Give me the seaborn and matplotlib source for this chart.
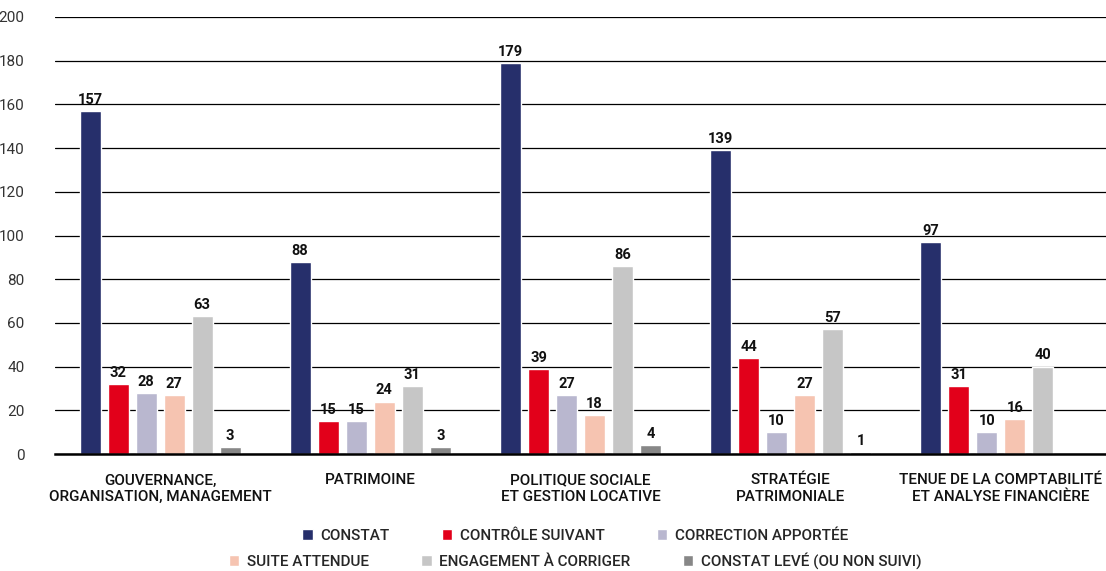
import matplotlib
matplotlib.use("Agg")
import matplotlib.pyplot as plt
import seaborn as sns
import pandas as pd
import numpy as np

categories = ["GOUVERNANCE,\nORGANISATION, MANAGEMENT", "PATRIMOINE",
              "POLITIQUE SOCIALE\nET GESTION LOCATIVE", "STRATÉGIE\nPATRIMONIALE",
              "TENUE DE LA COMPTABILITÉ\nET ANALYSE FINANCIÈRE"]
series = ["CONSTAT", "CONTRÔLE SUIVANT", "CORRECTION APPORTÉE",
          "SUITE ATTENDUE", "ENGAGEMENT À CORRIGER", "CONSTAT LEVÉ (OU NON SUIVI)"]
constat = [157, 88, 179, 139, 97]
controle = [32, 15, 39, 44, 31]
correction = [28, 15, 27, 10, 10]
suite = [27, 24, 18, 27, 16]
engagement = [63, 31, 86, 57, 40]
leve = [3, 3, 4, 1, np.nan]
colors = ["#262F6B", "#E2001A", "#B9B7CF", "#F6C4B1", "#C6C6C6", "#878787"]

values = [constat, controle, correction, suite, engagement, leve]
rows = []
for s, vals in zip(series, values):
    for c, v in zip(categories, vals):
        rows.append({"cat": c, "series": s, "value": v})
df = pd.DataFrame(rows)

sns.set_theme(style="white")
plt.rcParams["font.family"] = ["Roboto", "DejaVu Sans"]

fig = plt.figure(figsize=(11.06, 5.71), dpi=100)
ax = fig.add_axes([55/1106, 1-454/571, 1-55/1106, (454-17)/571])
sns.barplot(data=df, x="cat", y="value", hue="series", order=categories,
            hue_order=series, palette=colors, width=0.8, gap=0.25,
            saturation=1, ax=ax, legend=True, errorbar=None)

for cont in ax.containers:
    labels = ["" if np.isnan(v) else f"{int(v)}" for v in cont.datavalues]
    ax.bar_label(cont, labels=labels, padding=3, fontsize=10.5,
                 fontweight="bold", color="#111111")

ax.set_ylim(0, 200)
ax.set_yticks(range(0, 201, 20))
ax.yaxis.grid(True, color="#000000", linewidth=0.9)
ax.set_axisbelow(True)
for side in ["left", "right", "top"]:
    ax.spines[side].set_visible(False)
ax.spines["bottom"].set_color("#000000")
ax.spines["bottom"].set_linewidth(1.8)
ax.set_xlim(-0.5, 4.5)
ax.set_xlabel("")
ax.set_ylabel("")
ax.tick_params(axis="y", labelsize=11, colors="#333333", length=0, pad=22)
ax.tick_params(axis="x", labelsize=11, length=0, pad=14)
for lab in ax.get_yticklabels():
    lab.set_horizontalalignment("right")
for lab in ax.get_xticklabels():
    lab.set_fontweight("medium")
    lab.set_color("#111111")

handles, labels = ax.get_legend_handles_labels()
ax.get_legend().remove()
common = dict(loc="center", ncol=3, frameon=False, fontsize=11,
              handlelength=0.7, handleheight=0.7, columnspacing=3.4,
              handletextpad=0.5, borderpad=0, prop={"weight": "medium", "size": 11})
common.pop("fontsize")
fig.legend(handles[:3], labels[:3], bbox_to_anchor=(0.52, 1-536/571), **common)
fig.legend(handles[3:], labels[3:], bbox_to_anchor=(0.52, 1-561/571), **common)

fig.savefig("out.png", dpi=100)
